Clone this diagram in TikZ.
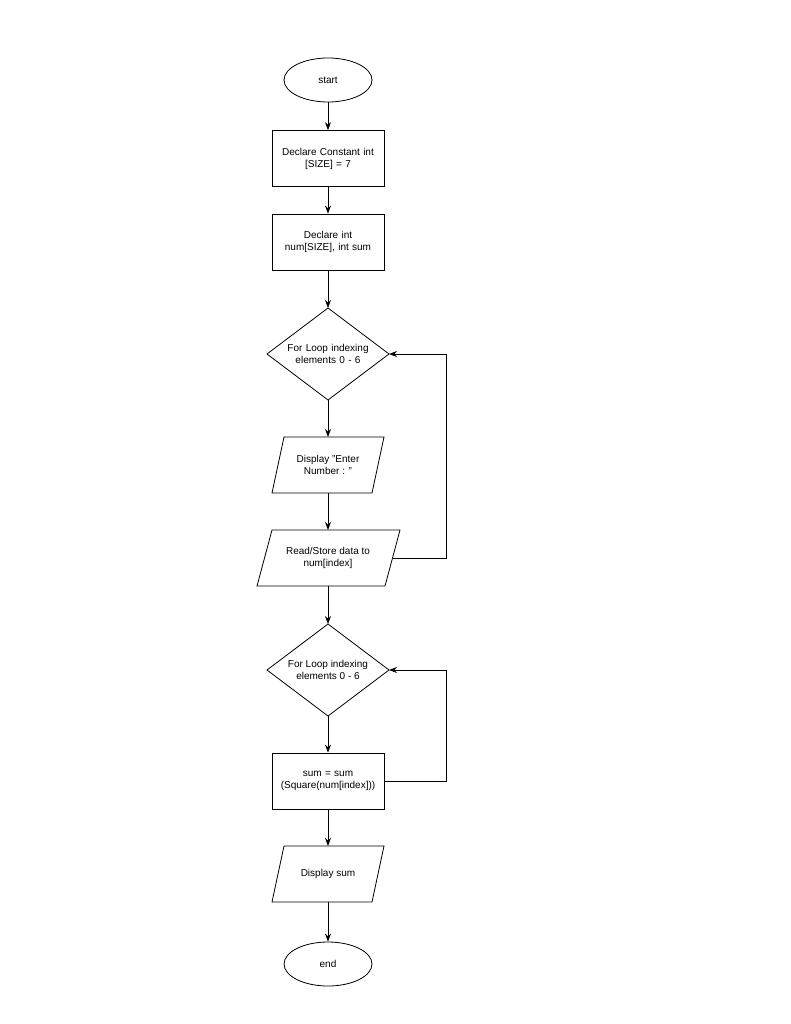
\documentclass[tikz,border=0pt]{standalone}
\usepackage{fontspec}
\setmainfont{Liberation Sans}
\usetikzlibrary{shapes.geometric,arrows.meta}
\begin{document}
\begin{tikzpicture}[x=1pt,y=-1pt,
  every node/.style={font=\fontsize{10}{12}\selectfont,align=center,draw,line width=0.8pt},
  box/.style={rectangle,minimum width=112pt,minimum height=56pt,text width=104pt},
  oval/.style={ellipse,minimum width=88pt,minimum height=44pt},
  dia/.style={diamond,minimum width=122pt,minimum height=92pt,aspect=1.33,inner sep=0pt,text width=85pt},
  arr/.style={-{Stealth[length=8pt,width=6pt]},line width=0.8pt}]
\useasboundingbox (0,0) rectangle (791,1024);
\node[oval] (start) at (328,80) {start};
\node[box] (b1) at (328,158.5) {Declare Constant int\\ {[SIZE]} = 7};
\node[box] (b2) at (328,242) {Declare int\\ num{[SIZE]}, int sum};
\node[draw=none,minimum size=0pt] (d1) at (328,354) {};
\draw[line width=0.8pt] (267,354) -- (328,308) -- (389,354) -- (328,400) -- cycle;
\node[draw=none,text width=90pt] at (328,354) {For Loop indexing\\ elements 0 - 6};
\coordinate (d1t) at (328,308); \coordinate (d1b) at (328,400); \coordinate (d1r) at (389,354);
% para1
\draw[line width=0.8pt] (284,437) -- (384,437) -- (372,493) -- (272,493) -- cycle;
\node[draw=none] (p1) at (328,465) {Display "Enter\\ Number : "};
\coordinate (p1t) at (328,437); \coordinate (p1b) at (328,493);
% para2
\draw[line width=0.8pt] (272,530) -- (400,530) -- (385,586) -- (257,586) -- cycle;
\node[draw=none] (p2) at (328,558) {Read/Store data to\\ num{[index]}};
\coordinate (p2t) at (328,530); \coordinate (p2b) at (328,586); \coordinate (p2r) at (393,558);
% diamond 2
\draw[line width=0.8pt] (267,670) -- (328,624) -- (389,670) -- (328,716) -- cycle;
\node[draw=none] (d2) at (328,670) {For Loop indexing\\ elements 0 - 6};
\coordinate (d2t) at (328,624); \coordinate (d2b) at (328,716); \coordinate (d2r) at (389,670);
\node[box] (b3) at (328,781) {sum = sum\\ (Square(num{[index]}))};
% para3
\draw[line width=0.8pt] (284,846) -- (384,846) -- (372,902) -- (272,902) -- cycle;
\node[draw=none] (p3) at (328,874) {Display sum};
\coordinate (p3t) at (328,846); \coordinate (p3b) at (328,902);
\node[oval] (end) at (328,964) {end};
\draw[arr] (start) -- (b1);
\draw[arr] (b1) -- (b2);
\draw[arr] (b2) -- (d1t);
\draw[arr] (d1b) -- (p1t);
\draw[arr] (p1b) -- (p2t);
\draw[arr] (p2r) -- (446,558) -- (446,354) -- (d1r);
\draw[arr] (p2b) -- (d2t);
\draw[arr] (d2b) -- (b3);
\draw[arr] (b3.east) -- (446,781) -- (446,670) -- (d2r);
\draw[arr] (b3) -- (p3t);
\draw[arr] (p3b) -- (end);
\end{tikzpicture}
\end{document}
